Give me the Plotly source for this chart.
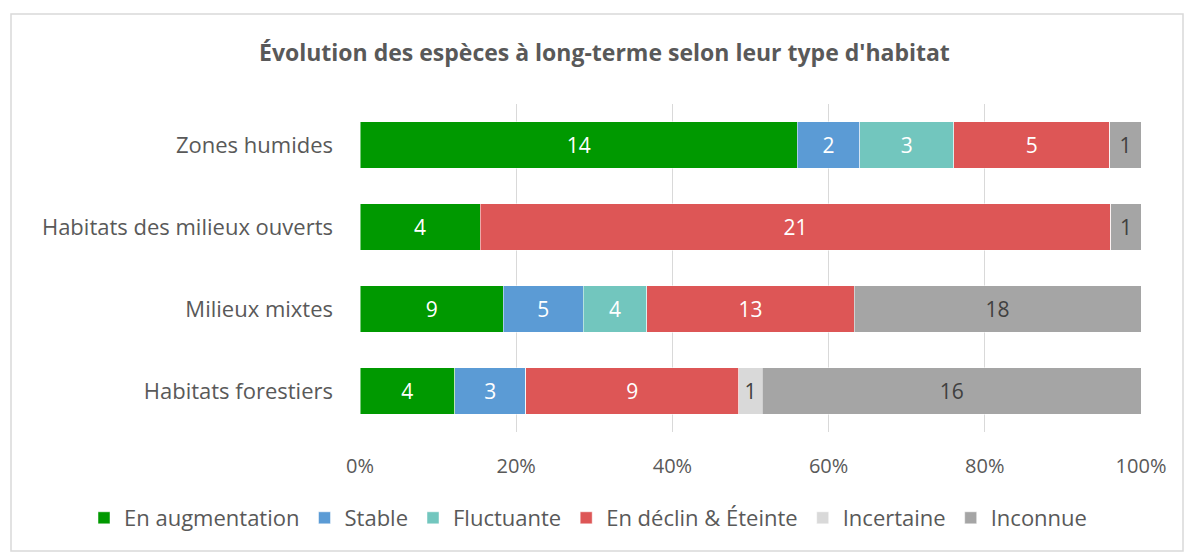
import plotly.graph_objects as go

categories = ["Zones humides", "Habitats des milieux ouverts", "Milieux mixtes", "Habitats forestiers"]
series_names = ["En augmentation", "Stable", "Fluctuante", "En déclin & Éteinte", "Incertaine", "Inconnue"]
en_augmentation = [14, 4, 9, 4]
stable = [2, 0, 5, 3]
fluctuante = [3, 0, 4, 0]
en_declin = [5, 21, 13, 9]
incertaine = [0, 0, 0, 1]
inconnue = [1, 1, 18, 16]
tick_vals = [0, 20, 40, 60, 80, 100]
tick_text = [f"{v}%" for v in tick_vals]

colors = ["#009900", "#5B9BD5", "#72C6BE", "#DD5656", "#D9D9D9", "#A5A5A5"]
text_colors = ["white", "white", "white", "white", "#404040", "#404040"]
FONT = "'Open Sans', Lato, sans-serif"

fig = go.Figure()
for name, vals, col, tcol in zip(series_names,
                                 [en_augmentation, stable, fluctuante, en_declin, incertaine, inconnue],
                                 colors, text_colors):
    fig.add_trace(go.Bar(
        y=categories, x=vals, name=name, orientation="h",
        marker=dict(color=col, line=dict(color="rgba(255,255,255,0.6)", width=0.8)),
        text=[str(v) if v else "" for v in vals],
        textposition="inside", insidetextanchor="middle", textangle=0,
        textfont=dict(color=tcol, size=21, family=FONT),
        hoverinfo="x+name",
    ))

L, R, T, B = 360, 43, 104, 120
W, H = 1184, 552
pw, ph = W - L - R, H - T - B

def px(x):
    return (x - L) / pw

def py(y):
    return (H - B - y) / ph

fig.update_layout(
    width=W, height=H,
    barmode="stack", barnorm="percent", bargap=0.43,
    margin=dict(l=L, r=R, t=T, b=B),
    paper_bgcolor="white", plot_bgcolor="white",
    font=dict(family=FONT, color="#595959", size=20),
    uniformtext=dict(minsize=21, mode="show"),
    showlegend=True,
    legend=dict(orientation="h", x=px(84), xanchor="left", y=py(518), yanchor="middle",
                font=dict(size=22, color="#595959"), traceorder="normal",
                itemwidth=30, tracegroupgap=0),
    xaxis=dict(range=[0, 100], tickvals=tick_vals, ticktext=tick_text, showgrid=True,
               gridcolor="#D9D9D9", gridwidth=1, zeroline=False, showline=False,
               tickfont=dict(size=20, color="#595959"), ticklabelstandoff=20, fixedrange=True),
    yaxis=dict(autorange="reversed", showgrid=False, showline=False, zeroline=False,
               tickfont=dict(size=22, color="#595959"), ticklabelstandoff=26, fixedrange=True),
    shapes=[dict(type="rect", xref="paper", yref="paper",
                 x0=px(11), x1=px(1183), y0=py(551), y1=py(14),
                 line=dict(color="#D9D9D9", width=1.5), fillcolor="rgba(0,0,0,0)", layer="below")],
    annotations=[dict(text="<b>Évolution des espèces à long-terme selon leur type d'habitat</b>",
                      xref="paper", yref="paper", x=px(604), y=py(52), xanchor="center", yanchor="middle",
                      showarrow=False, font=dict(size=23, color="#595959", family=FONT))],
)

fig.write_html("out.html", config={"displayModeBar": False},
               post_script="document.body.style.margin='0';")
